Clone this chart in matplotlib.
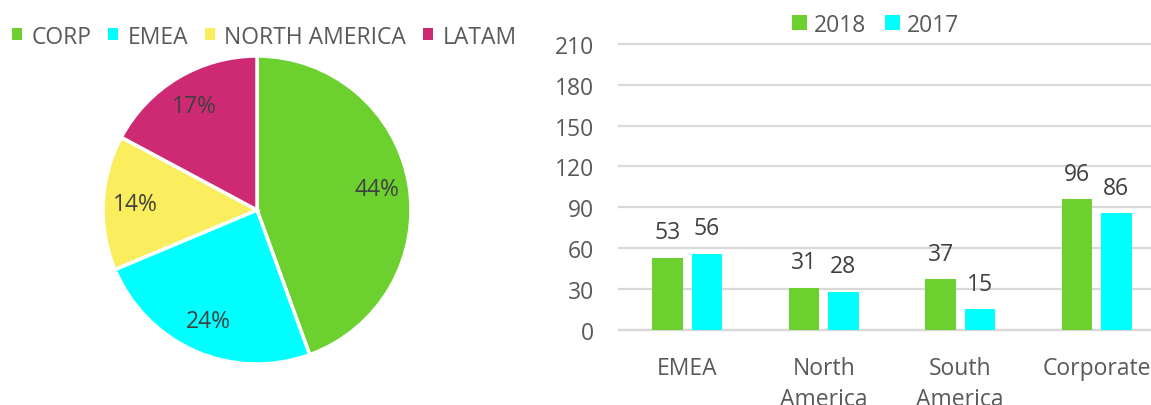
import matplotlib
matplotlib.use("Agg")
import matplotlib.pyplot as plt
from matplotlib.patches import Patch
import numpy as np

plt.rcParams['font.family'] = ['Open Sans', 'DejaVu Sans']

# Pie data
pie_labels = ["CORP", "EMEA", "NORTH AMERICA", "LATAM"]
pie_values = [44, 24, 14, 17]
pie_colors = ["#6CD02F", "#00FFFF", "#FAEE5E", "#CD2A73"]

# Bar data
categories = ["EMEA", "North\nAmerica", "South\nAmerica", "Corporate"]
series_2018 = [53, 31, 37, 96]
series_2017 = [56, 28, 15, 86]
bar_colors = {"2018": "#6CD02F", "2017": "#00FFFF"}
y_ticks = [0, 30, 60, 90, 120, 150, 180, 210]

TXT = "#595959"
DLBL = "#404040"
FS = 16.5

W, H = 1151, 406
fig = plt.figure(figsize=(W / 100, H / 100), dpi=100)

# ---------- Pie ----------
cx, cy, r = 257, 211, 154
half = r * 1.25
axp = fig.add_axes([(cx - half) / W, (H - cy - half) / H, 2 * half / W, 2 * half / H])
wedges, texts, autotexts = axp.pie(
    pie_values, colors=pie_colors, startangle=90, counterclock=False,
    autopct=lambda p: f"{p:.0f}%", pctdistance=0.79,
    wedgeprops=dict(edgecolor="white", linewidth=2.5),
    textprops=dict(color=DLBL, fontsize=FS))
axp.set_xlim(-1.25, 1.25)
axp.set_ylim(-1.25, 1.25)
axp.set_aspect("equal")

handles = [Patch(facecolor=c, edgecolor="none") for c in pie_colors]
fig.legend(handles, pie_labels, loc="center left", bbox_to_anchor=(11.5 / W, 1 - 37.5 / H),
           ncol=4, frameon=False, fontsize=FS, labelcolor=TXT,
           handlelength=0.44, handleheight=0.44, handletextpad=0.42,
           columnspacing=0.72, borderaxespad=0, borderpad=0)

# ---------- Bars ----------
x0 = 619
spacing = 136.5
ytop, ybot = 45, 330.7
axb = fig.add_axes([x0 / W, (H - ybot) / H, 4 * spacing / W, (ybot - ytop) / H])
x = np.arange(len(categories))
off = 0.143
bw = 0.2234
b1 = axb.bar(x - off, series_2018, bw, color=bar_colors["2018"], label="2018", zorder=3)
b2 = axb.bar(x + off, series_2017, bw, color=bar_colors["2017"], label="2017", zorder=3)
for bars, vals in ((b1, series_2018), (b2, series_2017)):
    for rect, v in zip(bars, vals):
        axb.annotate(f"{v}", (rect.get_x() + rect.get_width() / 2, v),
                     xytext=(0, 9.5), textcoords="offset points",
                     ha="center", va="bottom", color=DLBL, fontsize=FS)

axb.set_xlim(-0.5, 3.5)
axb.set_ylim(0, 210)
axb.set_yticks(y_ticks)
axb.set_xticks(x)
axb.set_xticklabels(categories, linespacing=1.4)
axb.tick_params(axis="both", length=0, labelsize=FS, labelcolor=TXT)
axb.tick_params(axis="y", pad=18)
axb.tick_params(axis="x", pad=19)
axb.grid(axis="y", color="#D9D9D9", linewidth=1.6, zorder=0)
for gl in axb.get_ygridlines():
    gl.set_clip_on(False)
for s in ("top", "right", "left"):
    axb.spines[s].set_visible(False)
axb.spines["bottom"].set_color("#D9D9D9")
axb.spines["bottom"].set_linewidth(1.6)
axb.set_axisbelow(True)

fig.legend([Patch(facecolor=bar_colors["2018"]), Patch(facecolor=bar_colors["2017"])],
           ["2018", "2017"], loc="center left", bbox_to_anchor=(792 / W, 1 - 25.8 / H),
           ncol=2, frameon=False, fontsize=FS, labelcolor=TXT,
           handlelength=0.66, handleheight=0.66, handletextpad=0.28,
           columnspacing=0.85, borderaxespad=0, borderpad=0)

fig.savefig("out.png", dpi=100)
